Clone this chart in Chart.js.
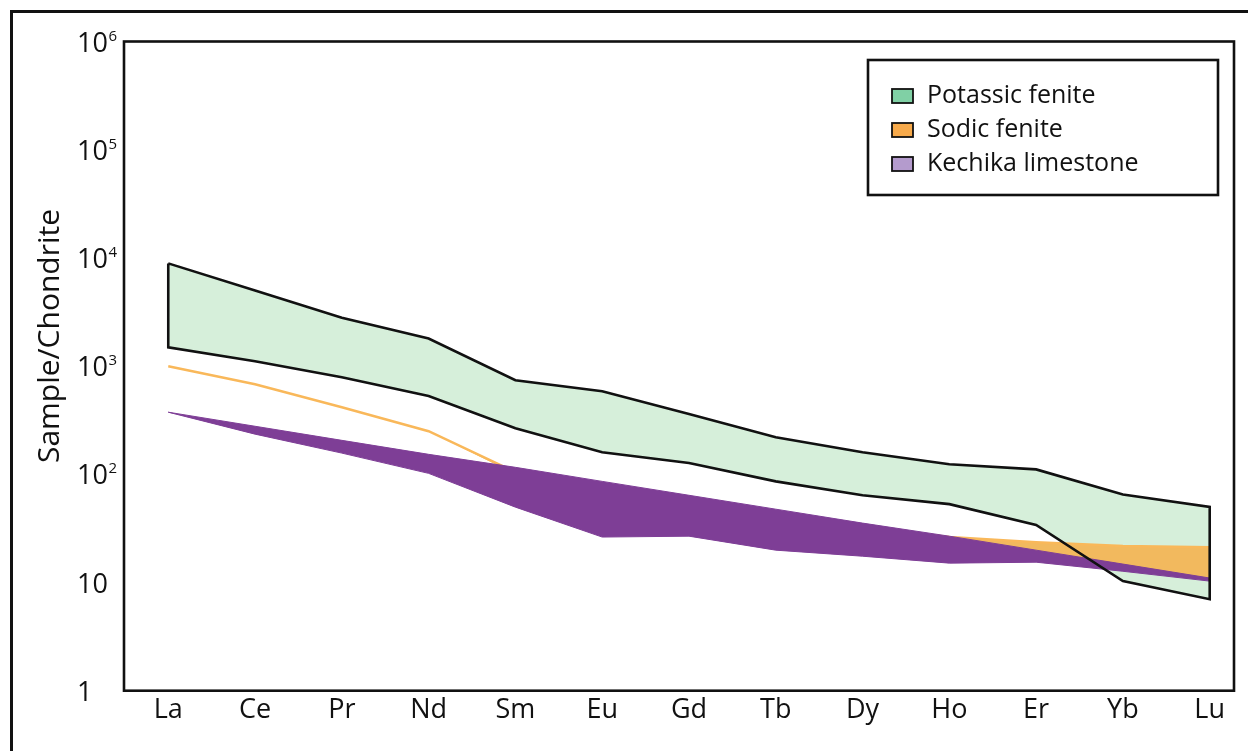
<!DOCTYPE html>
<html><head><meta charset="utf-8">
<script src="https://cdn.jsdelivr.net/npm/chart.js@4.4.1/dist/chart.umd.min.js"></script>
<style>html,body{margin:0;padding:0;background:#fff;}canvas{display:block;}</style>
</head><body>
<canvas id="c" width="1248" height="751"></canvas>
<script>
// ---- data ----
const elements = ['La','Ce','Pr','Nd','Sm','Eu','Gd','Tb','Dy','Ho','Er','Yb','Lu'];
const potassicUpper = [8900,5000,2800,1800,740,585,360,220,160,124,111,65,50];
const potassicLower = [1490,1110,790,530,267,160,127,86,64,53,34,10.3,7.0];
const sodicUpper = [995,680,417,250,105,74,53,38,32,26.3,23.6,21.7,21.2];
const sodicLower = [995,680,417,250,100,60,45,33,26,22,19,14.5,10.8];
const kechikaUpper = [375,278,206,153,116,86,64,47.6,35.4,26.8,19.9,14.8,11.0];
const kechikaLower = [375,235,157,102,49.7,26.3,26.8,19.9,17.5,15.1,15.4,12.7,10.3];
const yTickValues = [1,10,100,1000,10000,100000,1000000];
const legendNames = ['Potassic fenite','Sodic fenite','Kechika limestone'];
const yTitle = 'Sample/Chondrite';

// ---- styles ----
const FONT = '"Open Sans", "DejaVu Sans", sans-serif';
const GREEN = '#d6efda';
const ORANGE_FILL = '#f2b95e';
const ORANGE_LINE = '#f9b85a';
const PURPLE = '#7e3e96';
const LEGEND_COLORS = ['#80d0a5', '#f7aa4b', '#b49bcd'];
const INK = '#111';

const toXY = arr => arr.map((v, i) => ({x: i, y: v}));
const greenShape = toXY(potassicUpper).concat(toXY(potassicLower).reverse());
greenShape.push(greenShape[0]);

const decorPlugin = {
  id: 'decor',
  afterDatasetsDraw(chart) {
    const ctx = chart.ctx, a = chart.chartArea;
    const xs = chart.scales.x, ys = chart.scales.y;
    ctx.save();
    ctx.strokeStyle = INK;
    // outer frame
    ctx.lineWidth = 3;
    ctx.strokeRect(11.5, 11.5, 1400, 900);
    // plot frame
    ctx.lineWidth = 2.6;
    ctx.strokeRect(a.left, a.top, a.right - a.left, a.bottom - a.top);
    ctx.fillStyle = INK;
    // y ticks
    yTickValues.forEach(v => {
      const py = ys.getPixelForValue(v);
      const e = Math.round(Math.log10(v));
      ctx.font = '27px ' + FONT;
      ctx.textAlign = 'left';
      ctx.textBaseline = 'alphabetic';
      if (e < 2) {
        ctx.fillText(String(v), 77, py + 10);
      } else {
        ctx.fillText('10', 77, py + 10);
        const w = ctx.measureText('10').width;
        ctx.font = '15px ' + FONT;
        ctx.fillText(String(e), 77 + w + 0.5, py - 1);
      }
    });
    // x labels
    ctx.font = '27px ' + FONT;
    ctx.textAlign = 'center';
    elements.forEach((el, i) => {
      ctx.fillText(el, xs.getPixelForValue(i), 718);
    });
    // y title
    ctx.save();
    ctx.translate(58.5, 336);
    ctx.rotate(-Math.PI / 2);
    ctx.font = '30px ' + FONT;
    ctx.textAlign = 'center';
    ctx.fillText(yTitle, 0, 0);
    ctx.restore();
    // legend
    ctx.lineWidth = 2.6;
    ctx.strokeRect(868, 60, 350, 135);
    ctx.font = '25px ' + FONT;
    ctx.textAlign = 'left';
    legendNames.forEach((name, i) => {
      const base = 103 + i * 34;
      ctx.fillStyle = LEGEND_COLORS[i];
      ctx.fillRect(892, base - 14, 21, 14);
      ctx.lineWidth = 1.8;
      ctx.strokeRect(892, base - 14, 21, 14);
      ctx.fillStyle = INK;
      ctx.fillText(name, 927, base);
    });
    ctx.restore();
  }
};

const NONE = 'rgba(0,0,0,0)';
new Chart(document.getElementById('c'), {
  type: 'line',
  data: {
    datasets: [
      {data: greenShape, fill: 'shape', backgroundColor: GREEN, borderColor: NONE, borderWidth: 0, order: 10},
      {data: toXY(sodicLower), fill: false, borderColor: NONE, borderWidth: 0, order: 9},
      {data: toXY(sodicUpper), fill: '-1', backgroundColor: ORANGE_FILL, borderColor: ORANGE_LINE, borderWidth: 2.5, order: 8},
      {data: toXY(kechikaLower), fill: false, borderColor: PURPLE, borderWidth: 1, order: 7},
      {data: toXY(kechikaUpper), fill: '-1', backgroundColor: PURPLE, borderColor: PURPLE, borderWidth: 1, order: 6},
      {data: greenShape, fill: false, borderColor: INK, borderWidth: 2.6, order: 0}
    ]
  },
  options: {
    responsive: false,
    animation: false,
    events: [],
    layout: {padding: {left: 124, top: 41.5, right: 14, bottom: 60.3}},
    elements: {point: {radius: 0}, line: {tension: 0, borderJoinStyle: 'miter'}},
    scales: {
      x: {type: 'linear', min: -0.51, max: 12.28, display: false},
      y: {type: 'logarithmic', min: 1, max: 1000000, display: false}
    },
    plugins: {legend: {display: false}, tooltip: {enabled: false}}
  },
  plugins: [decorPlugin]
});
</script>
</body></html>
